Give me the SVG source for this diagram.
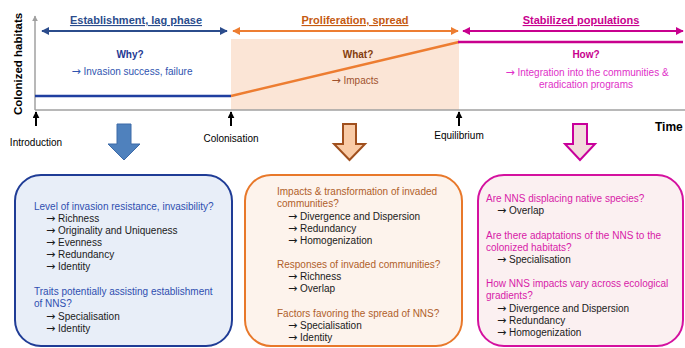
<svg xmlns="http://www.w3.org/2000/svg" width="685" height="348" viewBox="0 0 685 348">
<defs>
<style>
text{font-family:"Liberation Sans",Arial,sans-serif;font-size:10px}
.ar{font-family:"DejaVu Sans",sans-serif;font-size:11px}
.b{font-weight:bold}
.ttl{font-size:11px;font-weight:bold;text-decoration:underline;text-anchor:middle}
.mid{text-anchor:middle}
.k{fill:#1a1a1a}
.bl{fill:#2F4FB0}
.or{fill:#B0602A}
.mg{fill:#D81BA8}
</style>
<marker id="mB" viewBox="0 0 10 10" refX="9" refY="5" markerWidth="4" markerHeight="4" orient="auto-start-reverse"><path d="M0,0L10,5L0,10z" fill="#2B4C8C"/></marker>
<marker id="mO" viewBox="0 0 10 10" refX="9" refY="5" markerWidth="4" markerHeight="4" orient="auto-start-reverse"><path d="M0,0L10,5L0,10z" fill="#ED7D31"/></marker>
<marker id="mM" viewBox="0 0 10 10" refX="9" refY="5" markerWidth="4" markerHeight="4" orient="auto-start-reverse"><path d="M0,0L10,5L0,10z" fill="#C8008E"/></marker>
<marker id="mG" viewBox="0 0 10 10" refX="9" refY="5" markerWidth="4" markerHeight="4" orient="auto"><path d="M0,0L10,5L0,10z" fill="#A0A0A0"/></marker>
<marker id="mK" viewBox="0 0 10 10" refX="9" refY="5" markerWidth="3.5" markerHeight="3.5" orient="auto"><path d="M0,0L10,5L0,10z" fill="#000"/></marker>
</defs>
<rect width="685" height="348" fill="#fff"/>

<g id="chart">
<rect x="231" y="39" width="228" height="71" fill="#FBE5D6"/>
<line x1="35" y1="110" x2="685" y2="110" stroke="#A0A0A0" stroke-width="1.5"/>
<line x1="35" y1="110" x2="35" y2="16" stroke="#A0A0A0" stroke-width="1.5" marker-end="url(#mG)"/>
<text class="b" transform="translate(21.5,64) rotate(-90)" text-anchor="middle" style="font-size:11.5px">Colonized habitats</text>
<text class="b" x="655" y="131" style="font-size:12px">Time</text>
<line x1="35" y1="96" x2="231" y2="96" stroke="#1F3FA0" stroke-width="2.5"/>
<line x1="231" y1="96" x2="459" y2="42" stroke="#ED7D31" stroke-width="2.5"/>
<line x1="458" y1="42" x2="683" y2="42" stroke="#C8008E" stroke-width="2.5"/>
</g>

<g id="phase-establishment">
<line x1="42" y1="31" x2="227" y2="31" stroke="#2B4C8C" stroke-width="2" marker-start="url(#mB)" marker-end="url(#mB)"/>
<text class="ttl" x="136" y="24" fill="#2B4C8C">Establishment, lag phase</text>
<text class="b mid" x="130" y="58" fill="#1F3A93">Why?</text>
<text class="mid" x="132" y="75" fill="#2F55B0"><tspan class="ar">→</tspan> Invasion success, failure</text>
</g>

<g id="phase-proliferation">
<line x1="233" y1="31" x2="458" y2="31" stroke="#ED7D31" stroke-width="2" marker-start="url(#mO)" marker-end="url(#mO)"/>
<text class="ttl" x="355" y="24" fill="#C55A11">Proliferation, spread</text>
<text class="b mid" x="358" y="58" fill="#843C0C">What?</text>
<text class="mid" x="355" y="84" fill="#A0522D"><tspan class="ar">→</tspan> Impacts</text>
</g>

<g id="phase-stabilized">
<line x1="463" y1="31" x2="683" y2="31" stroke="#C8008E" stroke-width="2" marker-start="url(#mM)" marker-end="url(#mM)"/>
<text class="ttl" x="581" y="24" fill="#C8008E">Stabilized populations</text>
<text class="b mid" x="586" y="58" fill="#C8008E">How?</text>
<text class="mid" x="587" y="76" fill="#E030C8"><tspan class="ar">→</tspan> Integration into the communities &amp;</text>
<text class="mid" x="586" y="88" fill="#E030C8">eradication programs</text>
</g>

<g id="event-introduction">
<line x1="36" y1="126" x2="36" y2="112" stroke="#000" stroke-width="2" marker-end="url(#mK)"/>
<text class="mid" x="36" y="146">Introduction</text>
</g>
<g id="event-colonisation">
<line x1="231" y1="126" x2="231" y2="112" stroke="#000" stroke-width="2" marker-end="url(#mK)"/>
<text class="mid" x="231" y="142">Colonisation</text>
</g>
<g id="event-equilibrium">
<line x1="459" y1="126" x2="459" y2="112" stroke="#000" stroke-width="2" marker-end="url(#mK)"/>
<text class="mid" x="459" y="139">Equilibrium</text>
</g>

<g id="connectors">
<polygon points="117,124 131,124 131,144 140,144 124,160 108,144 117,144" fill="#4F81BD" stroke="#3C6AA8" stroke-width="1"/>
<polygon points="343,124 356,124 356,144 365,144 349.5,160 334,144 343,144" fill="#F9CBA6" stroke="#A0501E" stroke-width="2"/>
<polygon points="573,124 587,124 587,144 595,144 580,160 565,144 573,144" fill="#F2DCDC" stroke="#C8009B" stroke-width="2"/>
</g>

<g id="box-establishment">
<rect x="15" y="175" width="217" height="171" rx="26" fill="#E8EEF8" stroke="#1F3C96" stroke-width="2"/>
<text class="bl" x="34" y="210">Level of invasion resistance, invasibility?</text>
<text class="k" x="46" y="222"><tspan class="ar">→</tspan> Richness</text>
<text class="k" x="46" y="234"><tspan class="ar">→</tspan> Originality and Uniqueness</text>
<text class="k" x="46" y="246"><tspan class="ar">→</tspan> Evenness</text>
<text class="k" x="46" y="258"><tspan class="ar">→</tspan> Redundancy</text>
<text class="k" x="46" y="270"><tspan class="ar">→</tspan> Identity</text>
<text class="bl" x="34" y="295">Traits potentially assisting establishment</text>
<text class="bl" x="34" y="307">of NNS?</text>
<text class="k" x="46" y="320"><tspan class="ar">→</tspan> Specialisation</text>
<text class="k" x="46" y="332"><tspan class="ar">→</tspan> Identity</text>
</g>

<g id="box-proliferation">
<rect x="245" y="175" width="217" height="171" rx="26" fill="#FDF3EC" stroke="#E8782A" stroke-width="2"/>
<text class="or" x="277" y="195">Impacts &amp; transformation of invaded</text>
<text class="or" x="277" y="207">communities?</text>
<text class="k" x="288" y="220"><tspan class="ar">→</tspan> Divergence and Dispersion</text>
<text class="k" x="288" y="232"><tspan class="ar">→</tspan> Redundancy</text>
<text class="k" x="288" y="244"><tspan class="ar">→</tspan> Homogenization</text>
<text class="or" x="277" y="268">Responses of invaded communities?</text>
<text class="k" x="288" y="280"><tspan class="ar">→</tspan> Richness</text>
<text class="k" x="288" y="292"><tspan class="ar">→</tspan> Overlap</text>
<text class="or" x="277" y="317">Factors favoring the spread of NNS?</text>
<text class="k" x="288" y="329"><tspan class="ar">→</tspan> Specialisation</text>
<text class="k" x="288" y="341"><tspan class="ar">→</tspan> Identity</text>
</g>

<g id="box-stabilized">
<rect x="478" y="175" width="205" height="171" rx="26" fill="#FBF0F1" stroke="#D4119F" stroke-width="2"/>
<text class="mg" x="486" y="202">Are NNS displacing native species?</text>
<text class="k" x="497" y="214"><tspan class="ar">→</tspan> Overlap</text>
<text class="mg" x="486" y="239">Are there adaptations of the NNS to the</text>
<text class="mg" x="486" y="251">colonized habitats?</text>
<text class="k" x="497" y="263"><tspan class="ar">→</tspan> Specialisation</text>
<text class="mg" x="486" y="287">How NNS impacts vary across ecological</text>
<text class="mg" x="486" y="299">gradients?</text>
<text class="k" x="497" y="312"><tspan class="ar">→</tspan> Divergence and Dispersion</text>
<text class="k" x="497" y="324"><tspan class="ar">→</tspan> Redundancy</text>
<text class="k" x="497" y="336"><tspan class="ar">→</tspan> Homogenization</text>
</g>
</svg>
